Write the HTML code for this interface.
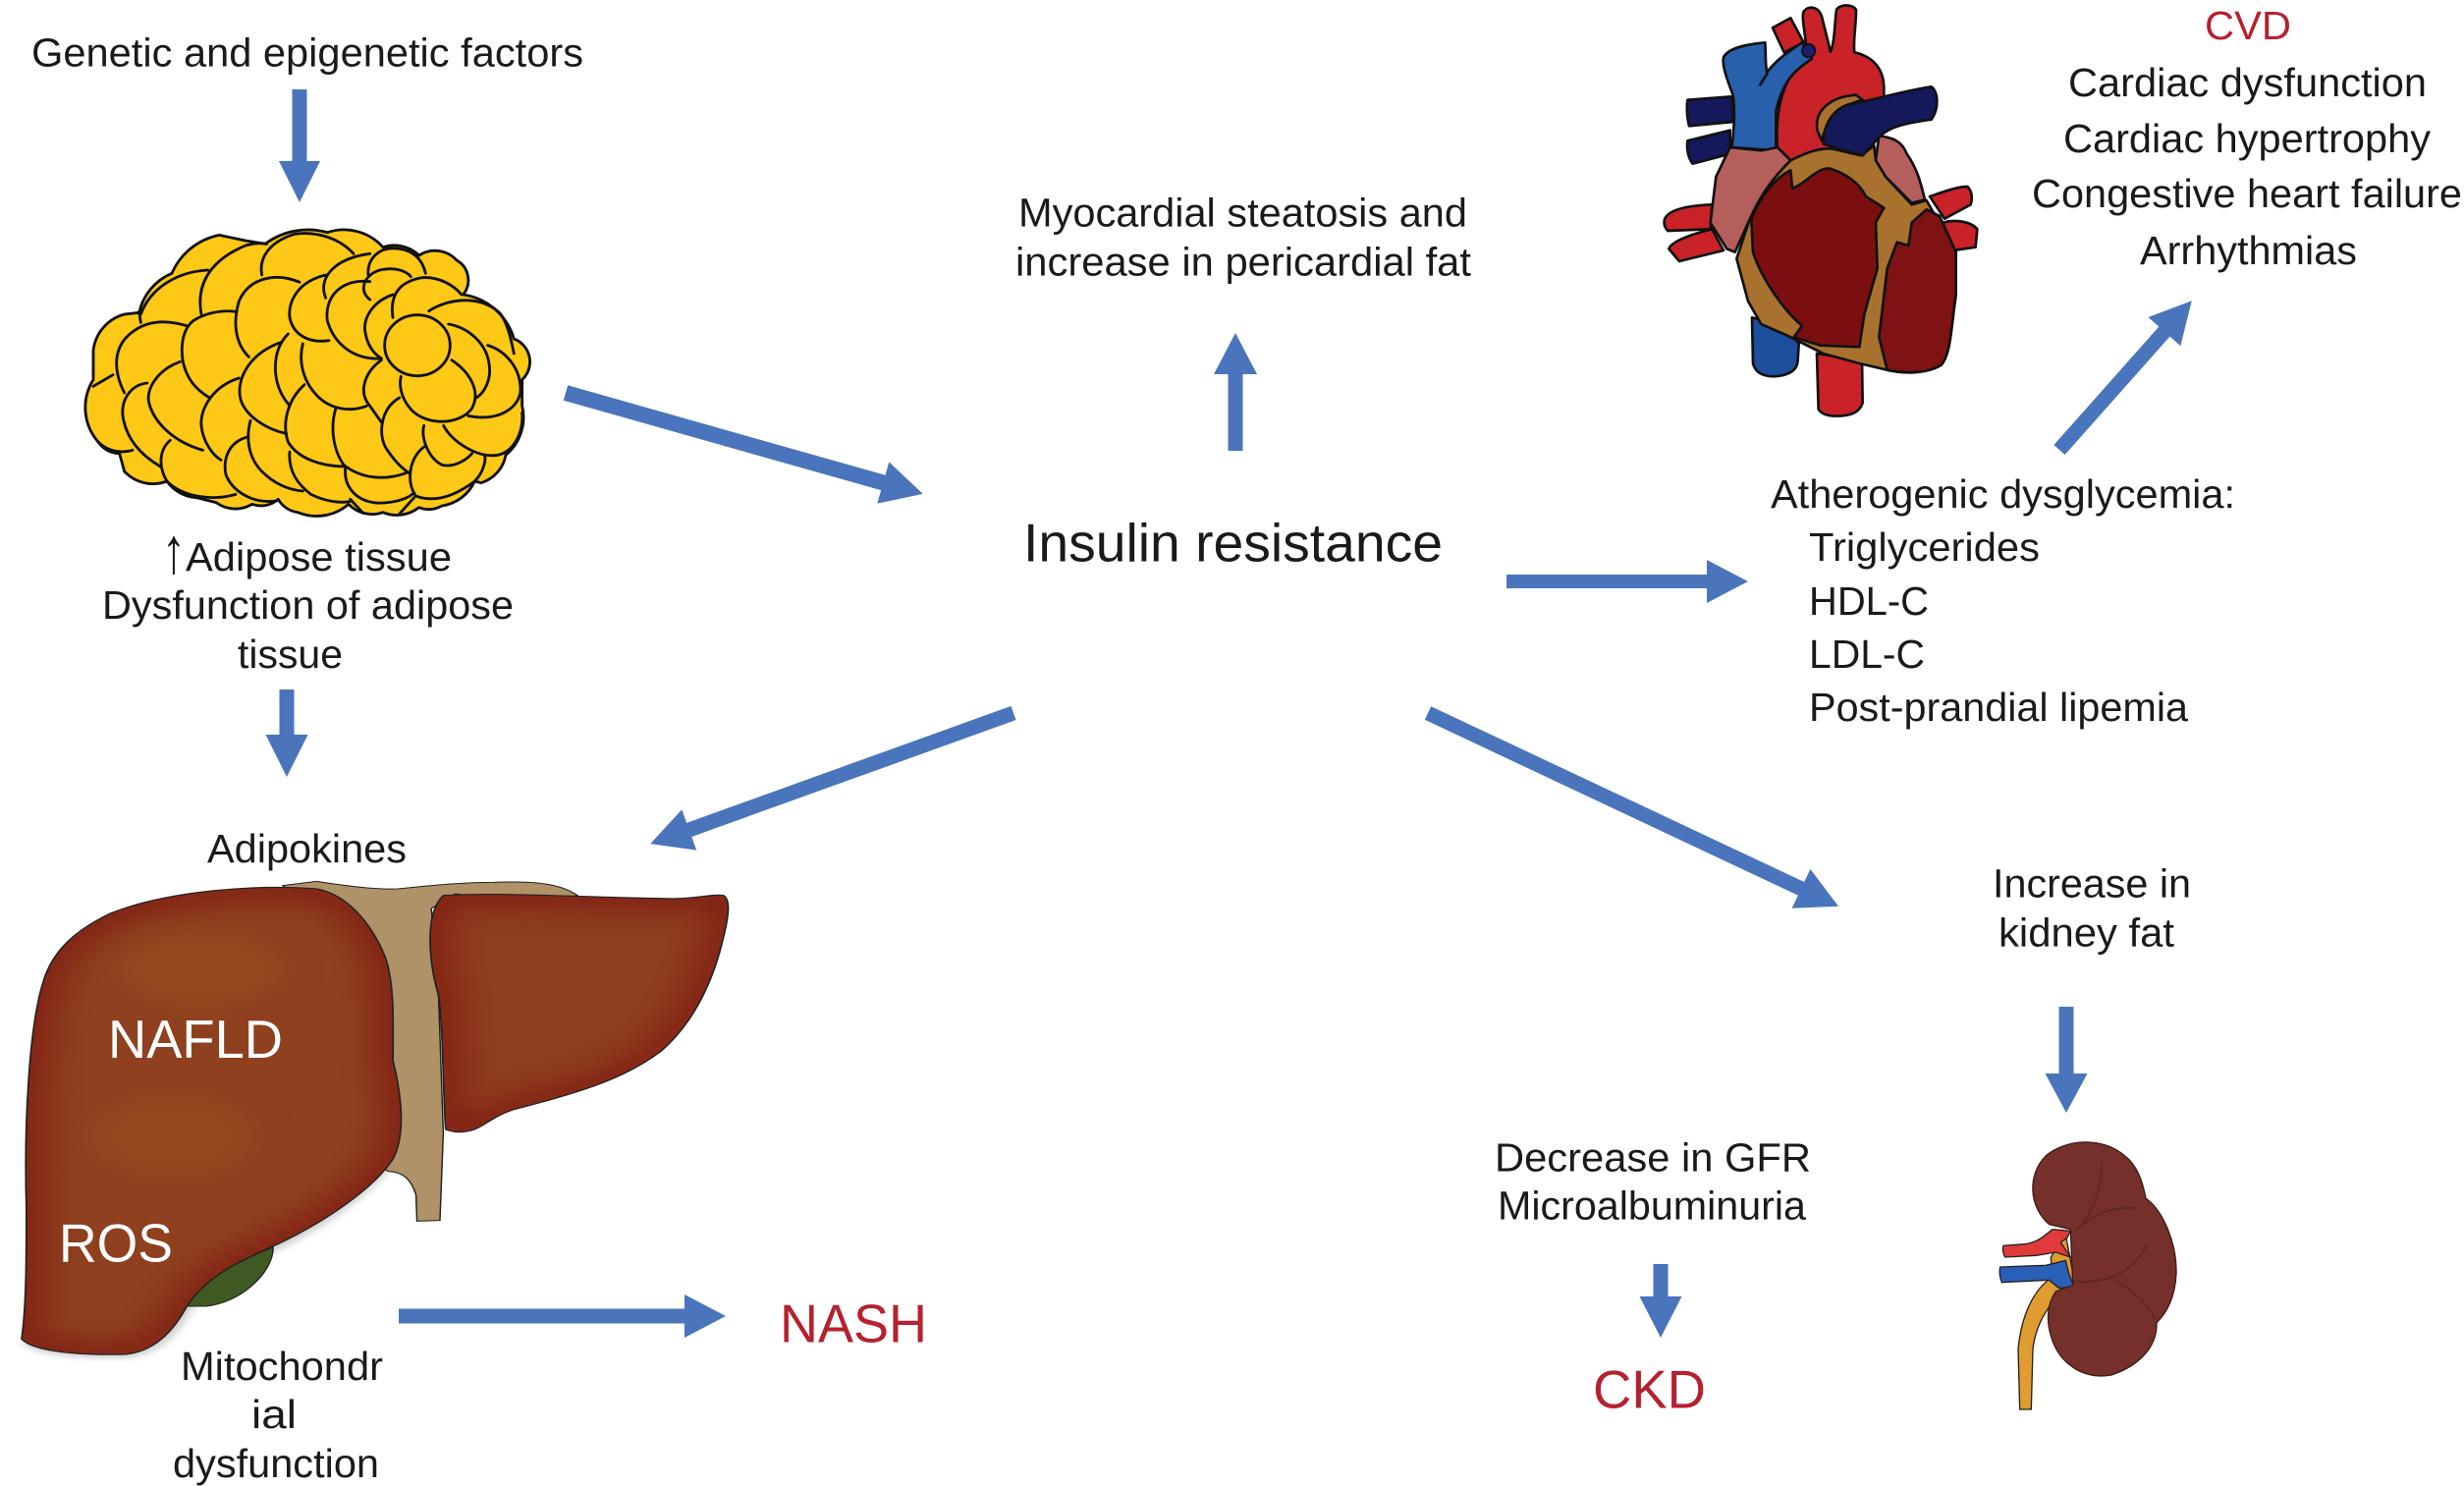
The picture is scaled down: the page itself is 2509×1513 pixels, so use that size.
<!DOCTYPE html>
<html>
<head>
<meta charset="utf-8">
<title>Insulin resistance diagram</title>
<style>
html,body{margin:0;padding:0;background:#fff;width:2509px;height:1513px;overflow:hidden}
svg{display:block}
text{font-family:"Liberation Sans",sans-serif;font-size:41px;fill:#1a1a1a}
.r{fill:#b5212e}
.w{fill:#fff}
.heart path{stroke:#111;stroke-width:8;stroke-linejoin:round}
.arr path{fill:#4a75bc}
</style>
</head>
<body>
<svg width="2509" height="1513" viewBox="0 0 2509 1513" xmlns="http://www.w3.org/2000/svg">
<defs>
<filter id="b1" x="-30%" y="-30%" width="160%" height="160%" color-interpolation-filters="sRGB"><feGaussianBlur stdDeviation="38"/></filter>
<filter id="b2" x="-20%" y="-20%" width="140%" height="140%"><feGaussianBlur stdDeviation="10"/></filter>
<clipPath id="cl"><path d="M660,75C720,90 770,170 800,270C825,350 820,500 820,600C840,720 845,830 820,900C780,990 680,1090 580,1160C500,1210 430,1260 390,1350C360,1430 320,1490 260,1497C170,1500 70,1490 45,1450C55,1350 55,1200 55,1050C50,800 60,500 90,360C110,260 160,200 230,150C350,80 540,60 660,75Z"/></clipPath>
<clipPath id="cr"><path d="M925,95C1050,85 1200,100 1400,105C1450,105 1490,90 1510,95C1525,110 1520,160 1510,220C1490,350 1450,480 1380,570C1300,660 1200,700 1070,750C1030,770 1020,790 990,810C960,825 940,815 930,810C925,740 925,500 915,400C895,300 885,150 925,95Z"/></clipPath>
</defs>

<!-- adipose -->
<g transform="translate(60,200) scale(.33333)" stroke="#111" stroke-width="8.5" stroke-linecap="round" stroke-linejoin="round">
<path fill="#fdc816" d="M105,560L105,470A130,130 0 0 1 200,360L245,355A170,170 0 0 1 345,235A200,200 0 0 1 490,118L570,135L630,145A220,220 0 0 1 820,110A160,160 0 0 1 990,155A110,110 0 0 1 1100,180A90,90 0 0 1 1215,195A70,70 0 0 1 1235,300A190,190 0 0 1 1390,435A75,75 0 0 1 1415,560L1415,640A150,150 0 0 1 1365,790A110,110 0 0 1 1290,875L1270,870A130,130 0 0 1 1170,945A80,80 0 0 1 1100,950A110,110 0 0 1 990,965A100,100 0 0 1 885,940A150,150 0 0 1 730,965A80,80 0 0 1 670,925A80,80 0 0 1 590,940A100,100 0 0 1 480,935L420,920A120,120 0 0 1 330,870A120,120 0 0 1 200,840L185,785A80,80 0 0 1 120,750A160,160 0 0 1 105,560Z"/>
<g fill="none">
<path d="M105,580L165,545"/>
<path d="M200,600C160,520 170,450 230,410C280,375 340,380 390,395"/>
<path d="M250,385L245,352"/>
<path d="M250,360C280,280 360,230 455,225"/>
<path d="M435,360C420,280 450,200 570,150C590,145 610,140 635,145"/>
<path d="M620,240C610,190 640,140 720,115C790,105 860,130 900,175"/>
<path d="M460,615C420,590 390,560 378,500C370,440 385,400 410,380C440,360 490,345 540,352"/>
<path d="M580,490C540,450 530,390 550,320C580,250 660,230 735,262"/>
<path d="M815,240C730,260 700,320 705,370C715,420 760,450 825,440"/>
<path d="M815,310C790,250 840,190 950,175"/>
<path d="M950,260C860,250 810,310 820,380C840,450 900,500 985,495"/>
<path d="M945,240C940,190 980,150 1040,160C1080,165 1110,190 1120,235"/>
<path d="M950,315C915,290 930,240 980,225C1020,215 1060,225 1075,245"/>
<path d="M1020,300C960,320 930,370 935,410C940,450 960,480 985,495"/>
<path d="M1020,370C1010,300 1040,260 1110,248C1160,245 1205,270 1230,300"/>
<path d="M1130,350C1200,305 1300,305 1350,360C1370,390 1380,430 1390,480"/>
<ellipse cx="1095" cy="455" rx="100" ry="93"/>
<path d="M1190,390C1250,400 1310,450 1315,520C1320,560 1300,600 1275,615"/>
<path d="M1310,455C1360,470 1410,520 1410,590C1410,640 1350,690 1250,670"/>
<path d="M1200,500C1260,540 1290,600 1260,650C1220,700 1120,700 1075,650C1040,610 1040,570 1045,550"/>
<path d="M985,500C930,540 915,600 950,640L985,690"/>
<path d="M1040,615C980,650 975,730 1000,770C1020,800 1040,825 1070,845"/>
<path d="M1175,700C1200,750 1280,800 1340,790C1390,780 1420,720 1415,660"/>
<path d="M1115,700C1105,740 1130,800 1170,820C1210,830 1250,800 1262,785"/>
<path d="M1115,765C1070,800 1060,870 1090,915C1130,930 1190,930 1270,870C1300,840 1305,800 1300,790"/>
<path d="M745,450C730,510 750,570 790,610C830,650 890,660 940,640"/>
<path d="M845,650C830,700 835,770 870,820C920,860 990,870 1060,845"/>
<path d="M750,575C700,620 680,690 700,750C730,800 800,825 875,825"/>
<path d="M680,445C580,480 540,560 555,620C570,670 630,710 695,725"/>
<path d="M700,420C650,470 650,560 690,620L705,640"/>
<path d="M875,830C870,880 900,925 960,935C1000,940 1060,930 1085,905"/>
<path d="M550,555C470,580 430,650 435,700C440,750 470,790 495,805"/>
<path d="M585,685C570,740 580,800 620,840C650,870 690,895 745,900"/>
<path d="M705,780C700,840 730,880 770,910C810,930 860,940 895,930"/>
<path d="M575,735C520,750 500,800 510,850C530,900 590,940 665,930"/>
<path d="M370,505C300,530 265,590 275,630C290,690 350,750 440,775"/>
<path d="M270,570C220,575 190,620 195,670C205,740 250,790 310,825"/>
<path d="M340,745C310,770 300,820 330,870C380,920 470,930 540,910"/>
<path d="M120,750C150,780 190,785 225,775"/>
<path d="M890,925L930,968"/>
<path d="M1085,920L1040,970"/>
</g>
</g>

<!-- heart -->
<g class="heart" transform="translate(1660,0) scale(.33333)">
<path fill="#c92228" d="M435,85L490,55L530,130L470,160Z"/>
<path fill="#c92228" d="M105,670Q120,630 250,625L245,700L115,705Q100,690 105,670Z"/>
<path fill="#c92228" d="M118,760Q130,730 250,700L285,765L150,798Z"/>
<path fill="#c92228" d="M915,600C960,585 1000,570 1030,570Q1050,590 1040,625L960,668Z"/>
<path fill="#c92228" d="M955,680C990,670 1040,675 1060,700L1055,755L985,765Z"/>
<path fill="#1d4f9f" d="M372,970L375,1110Q385,1150 440,1150Q510,1145 512,1100L515,1050L480,1000Z"/>
<path fill="#c92228" d="M570,1080L575,1250Q590,1275 650,1270Q700,1265 710,1230L708,1100Z"/>
<path fill="#16185c" d="M175,305L310,295L315,372L180,385Q170,345 175,305Z"/>
<path fill="#16185c" d="M175,430L305,398L305,470L190,500Q170,470 175,430Z"/>
<path fill="#c92228" d="M535,185C545,130 520,60 530,35C545,15 575,20 585,50C595,90 605,130 612,158C625,130 625,60 630,30C640,12 680,12 690,30C690,80 680,130 685,160C730,170 775,200 775,270L775,300L600,480L490,490L450,460C440,330 470,230 535,185Z"/>
<path fill="#2860ad" d="M285,175C300,145 360,135 412,130C415,170 412,200 418,220C450,180 480,160 525,130L555,180C500,215 465,250 445,340L445,460L310,450C320,380 320,300 310,280C295,240 280,200 285,175Z"/>
<path fill="none" d="M395,262L420,222"/>
<circle cx="545" cy="155" r="20" fill="#1a1f6b" stroke="#111" stroke-width="6"/>
<path fill="#a8722e" d="M572,400C560,340 610,295 690,290L710,305C650,320 600,360 585,430Z"/>
<path fill="#b55f5d" d="M305,450L400,460L450,450L490,490C440,540 400,600 365,670L320,770L295,760L245,680L262,540Z"/>
<path fill="#b55f5d" d="M760,415C800,420 830,430 845,470C880,520 890,570 900,610L860,620L780,540L750,490Z"/>
<path fill="#a8722e" d="M490,490C540,465 580,450 620,455L705,475L745,445L750,490L780,540L860,625L905,612L995,770L995,900C980,1000 980,1080 950,1115C900,1145 830,1140 785,1130L700,1110L590,1080L480,1025L400,990L360,920L325,790L365,670C400,590 440,540 490,490Z"/>
<path fill="#16185c" d="M590,440C590,370 630,320 690,315C760,300 850,275 920,265C940,280 945,330 920,365C850,375 790,385 760,420L710,475C670,465 620,450 590,440Z"/>
<path fill="#7b0f10" d="M495,575C540,560 570,510 610,515C660,530 700,560 720,600L775,635L750,680L755,820L715,960L700,1060L580,1055L500,1030L525,995C470,950 400,850 375,770L370,670C400,590 450,540 490,520Z"/>
<path fill="#7f1212" d="M905,640L945,660L995,770L995,900C980,1000 980,1080 950,1115C900,1145 830,1140 785,1130L760,1030L785,820L815,740L850,750L860,680Z"/>
</g>

<!-- liver -->
<g transform="translate(0,880) scale(.488,.33333)">
<path fill="#000" opacity=".2" filter="url(#b2)" d="M830,900C780,1000 690,1100 590,1170C510,1220 440,1270 400,1360C370,1440 330,1500 260,1507C170,1510 70,1500 45,1460Z"/>
<path fill="#b09268" stroke="#222" stroke-width="3" d="M590,65L660,52C720,65 780,78 830,75C900,65 960,55 1030,55C1120,50 1170,60 1205,95L1100,120L950,90L900,135L915,400L925,820L918,1088L870,1090L868,1010C860,970 845,940 810,938L770,900L780,600L700,200Z"/>
<path fill="#3e5a22" stroke="#222" stroke-width="3" d="M570,1170C570,1250 500,1340 430,1350L390,1350C430,1260 500,1210 570,1170Z"/>
<g clip-path="url(#cl)">
<rect x="0" y="0" width="900" height="1540" fill="#8e401f"/>
<ellipse cx="420" cy="320" rx="170" ry="110" fill="#95481f" filter="url(#b1)"/>
<ellipse cx="360" cy="830" rx="170" ry="130" fill="#94471f" filter="url(#b1)"/>
<path fill="none" stroke="#7c1210" stroke-width="60" opacity=".85" filter="url(#b1)" d="M660,75C720,90 770,170 800,270C825,350 820,500 820,600C840,720 845,830 820,900C780,990 680,1090 580,1160C500,1210 430,1260 390,1350C360,1430 320,1490 260,1497C170,1500 70,1490 45,1450C55,1350 55,1200 55,1050C50,800 60,500 90,360C110,260 160,200 230,150C350,80 540,60 660,75Z"/>
</g>
<path fill="none" stroke="#222" stroke-width="3.5" d="M660,75C720,90 770,170 800,270C825,350 820,500 820,600C840,720 845,830 820,900C780,990 680,1090 580,1160C500,1210 430,1260 390,1350C360,1430 320,1490 260,1497C170,1500 70,1490 45,1450C55,1350 55,1200 55,1050C50,800 60,500 90,360C110,260 160,200 230,150C350,80 540,60 660,75Z"/>
<g clip-path="url(#cr)">
<rect x="880" y="50" width="660" height="800" fill="#8e3d1f"/>
<path fill="none" stroke="#7c1210" stroke-width="55" opacity=".85" filter="url(#b1)" d="M925,95C1050,85 1200,100 1400,105C1450,105 1490,90 1510,95C1525,110 1520,160 1510,220C1490,350 1450,480 1380,570C1300,660 1200,700 1070,750C1030,770 1020,790 990,810C960,825 940,815 930,810C925,740 925,500 915,400C895,300 885,150 925,95Z"/>
</g>
<path fill="none" stroke="#222" stroke-width="3.5" d="M925,95C1050,85 1200,100 1400,105C1450,105 1490,90 1510,95C1525,110 1520,160 1510,220C1490,350 1450,480 1380,570C1300,660 1200,700 1070,750C1030,770 1020,790 990,810C960,825 940,815 930,810C925,740 925,500 915,400C895,300 885,150 925,95Z"/>
</g>

<!-- kidney -->
<g transform="translate(1990,1140) scale(.33333)">
<path fill="#e09c30" stroke="#222" stroke-width="4" d="M200,885L195,700C205,600 240,520 300,480L295,420L340,350L370,510L340,520C290,560 250,620 240,700L235,885Z"/>
<path fill="#e03a3a" stroke="#222" stroke-width="4" d="M150,385L215,380C260,375 285,345 300,335L355,340L345,360L325,375L355,420L310,405L250,415L155,420Q145,400 150,385Z"/>
<path fill="#2a5fb8" stroke="#222" stroke-width="4" d="M140,450L280,445L340,430L350,470L365,510L320,515L290,490L145,497Q135,470 140,450Z"/>
<path fill="#75302b" stroke="#3d1a18" stroke-width="4" d="M290,320C230,270 220,170 280,110C340,60 450,50 520,110C560,140 575,190 585,240C640,280 680,380 678,470C675,540 650,590 618,620C620,690 570,750 480,780C400,795 320,750 295,660C280,610 285,560 310,525L362,505L355,335Z"/>
<g fill="none" stroke="#5c2522" stroke-width="4">
<path d="M450,130C450,220 420,290 380,330"/>
<path d="M370,340C420,290 480,265 560,270"/>
<path d="M365,495C450,500 540,480 590,380"/>
<path d="M490,490C540,520 590,560 615,610"/>
</g>
</g>

<!-- arrows -->
<g class="arr">
<path transform="translate(305,91) rotate(90)" d="M0,-7.5H73V-21L115,0L73,21V7.5H0Z"/>
<path transform="translate(292,702) rotate(90)" d="M0,-7.5H46V-21.5L89,0L46,21.5V7.5H0Z"/>
<path transform="translate(576,400) rotate(15.8)" d="M0,-8H336V-22L378,0L336,22V8H0Z"/>
<path transform="translate(1258,459) rotate(-90)" d="M0,-7.5H78V-22L120,0L78,22V7.5H0Z"/>
<path transform="translate(1534,592)" d="M0,-7H204V-22L246,0L204,22V7H0Z"/>
<path transform="translate(2097,458) rotate(-48.4)" d="M0,-7.5H161V-22L203,0L161,22V7.5H0Z"/>
<path transform="translate(1032,726) rotate(160.2)" d="M0,-7.5H351V-22L393,0L351,22V7.5H0Z"/>
<path transform="translate(1454,726) rotate(25.2)" d="M0,-7.5H420V-22L462,0L420,22V7.5H0Z"/>
<path transform="translate(2104,1025) rotate(90)" d="M0,-7.5H68V-21.5L108,0L68,21.5V7.5H0Z"/>
<path transform="translate(1691,1287) rotate(90)" d="M0,-7.5H33V-21.5L75,0L33,21.5V7.5H0Z"/>
<path transform="translate(406,1340)" d="M0,-7.5H291V-22L333,0L291,22V7.5H0Z"/>
</g>

<!-- text -->
<text x="32" y="67.5" textLength="562" lengthAdjust="spacingAndGlyphs">Genetic and epigenetic factors</text>
<text x="1037" y="230.5" textLength="457" lengthAdjust="spacingAndGlyphs">Myocardial steatosis and</text>
<text x="1034" y="280.5" textLength="464" lengthAdjust="spacingAndGlyphs">increase in pericardial fat</text>
<text class="r" x="2245" y="40" textLength="88" lengthAdjust="spacingAndGlyphs">CVD</text>
<text x="2106" y="98" textLength="365" lengthAdjust="spacingAndGlyphs">Cardiac dysfunction</text>
<text x="2101" y="155" textLength="374" lengthAdjust="spacingAndGlyphs">Cardiac hypertrophy</text>
<text x="2069" y="211" textLength="438" lengthAdjust="spacingAndGlyphs">Congestive heart failure</text>
<text x="2179" y="269" textLength="221" lengthAdjust="spacingAndGlyphs">Arrhythmias</text>
<text x="1042" y="571.5" style="font-size:55px" textLength="427" lengthAdjust="spacingAndGlyphs">Insulin resistance</text>
<text x="1803" y="517" textLength="473" lengthAdjust="spacingAndGlyphs">Atherogenic dysglycemia:</text>
<text x="1842" y="571" textLength="235" lengthAdjust="spacingAndGlyphs">Triglycerides</text>
<text x="1842" y="626" textLength="122" lengthAdjust="spacingAndGlyphs">HDL-C</text>
<text x="1842" y="680" textLength="118" lengthAdjust="spacingAndGlyphs">LDL-C</text>
<text x="1842" y="734" textLength="386" lengthAdjust="spacingAndGlyphs">Post-prandial lipemia</text>
<text x="165" y="583" style="font-size:66px" textLength="24" lengthAdjust="spacingAndGlyphs">↑</text>
<text x="189" y="581" textLength="271" lengthAdjust="spacingAndGlyphs">Adipose tissue</text>
<text x="104" y="630" textLength="419" lengthAdjust="spacingAndGlyphs">Dysfunction of adipose</text>
<text x="242" y="680" textLength="107" lengthAdjust="spacingAndGlyphs">tissue</text>
<text x="211" y="878" textLength="203" lengthAdjust="spacingAndGlyphs">Adipokines</text>
<text class="w" x="110" y="1077" style="font-size:55px" textLength="178" lengthAdjust="spacingAndGlyphs">NAFLD</text>
<text class="w" x="60" y="1284.5" style="font-size:55px" textLength="116" lengthAdjust="spacingAndGlyphs">ROS</text>
<text x="184" y="1405" textLength="206" lengthAdjust="spacingAndGlyphs">Mitochondr</text>
<text x="256" y="1454" textLength="46" lengthAdjust="spacingAndGlyphs">ial</text>
<text x="176" y="1504" textLength="210" lengthAdjust="spacingAndGlyphs">dysfunction</text>
<text class="r" x="794" y="1366.5" style="font-size:55px" textLength="150" lengthAdjust="spacingAndGlyphs">NASH</text>
<text x="2029" y="913.5" textLength="202" lengthAdjust="spacingAndGlyphs">Increase in</text>
<text x="2035" y="963.5" textLength="179" lengthAdjust="spacingAndGlyphs">kidney fat</text>
<text x="1522" y="1192.5" textLength="322" lengthAdjust="spacingAndGlyphs">Decrease in GFR</text>
<text x="1525" y="1241.5" textLength="314" lengthAdjust="spacingAndGlyphs">Microalbuminuria</text>
<text class="r" x="1622" y="1433.5" style="font-size:55px" textLength="115" lengthAdjust="spacingAndGlyphs">CKD</text>
</svg>
</body>
</html>
